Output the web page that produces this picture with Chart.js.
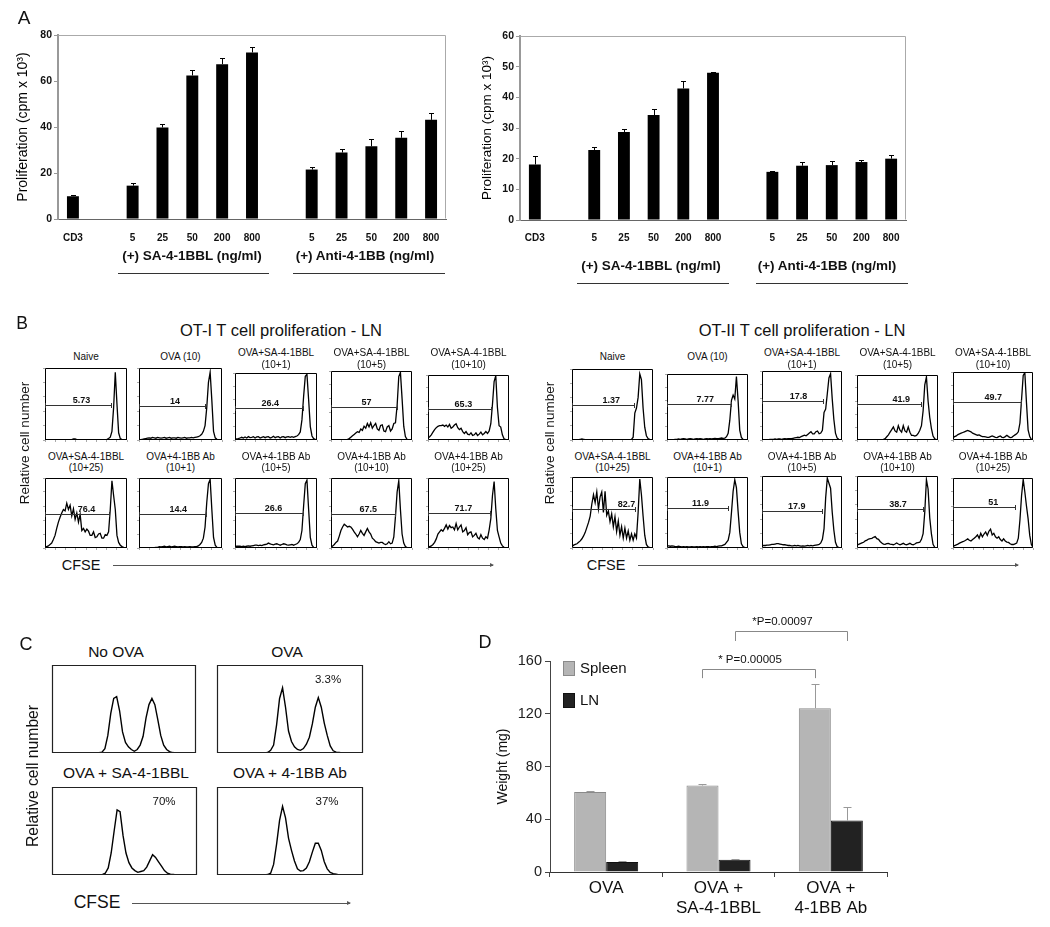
<!DOCTYPE html>
<html><head><meta charset="utf-8">
<script src="https://cdn.jsdelivr.net/npm/chart.js@4.4.1/dist/chart.umd.min.js"></script>
<style>
html,body{margin:0;padding:0;background:#fff;}
#fig{position:relative;width:1050px;height:927px;overflow:hidden;font-family:'Liberation Sans',Arial,Helvetica,sans-serif;color:#111;background:#fff;}
.t{position:absolute;white-space:nowrap;transform:translate(-50%,-50%);line-height:1;}
.rot{transform:translate(-50%,-50%) rotate(-90deg);}
canvas{position:absolute;}
</style></head><body><div id="fig"></div>
<script>
// ---------------- DATA ----------------
// Panel A
const aLabels = ['CD3','','5','25','50','200','800','','5','25','50','200','800'];
const ot1Prolif    = [9.9,null,14.5,39.8,62.4,67.3,72.4,null,21.5,28.9,31.6,35.3,43.1];
const ot1ProlifErr = [0.5,null,1.3,1.3,2.6,2.5,2.5,null,0.9,1.7,3.1,2.9,2.8];
const ot2Prolif    = [18.1,null,22.8,28.7,34.2,42.9,48.0,null,15.7,17.7,17.9,18.9,20.0];
const ot2ProlifErr = [2.7,null,0.9,0.9,2.1,2.5,0.2,null,0.2,1.1,1.2,0.7,1.3];
const aGroups = ['(+) SA-4-1BBL (ng/ml)','(+) Anti-4-1BB (ng/ml)'];

// Panel B (CFSE histograms, 50 bins, % of box height)
const ot1Titles = [['Naive'],['OVA (10)'],['OVA+SA-4-1BBL','(10+1)'],['OVA+SA-4-1BBL','(10+5)'],['OVA+SA-4-1BBL','(10+10)'],
  ['OVA+SA-4-1BBL','(10+25)'],['OVA+4-1BB Ab','(10+1)'],['OVA+4-1BB Ab','(10+5)'],['OVA+4-1BB Ab','(10+10)'],['OVA+4-1BB Ab','(10+25)']];
const ot2Titles = ot1Titles;
const ot1H1 = [0.5,0.5,0.5,0.5,0.5,0.5,0.5,0.5,0.5,0.5,0.5,0.5,0.5,0.5,0.5,0.5,0.5,1.5,1.5,0.5,0.5,0.5,0.5,0.5,0.5,0.5,0.5,0.5,0.5,0.5,0.5,0.5,0.5,0.5,0.5,0.5,0.5,1,2,4,12,45,94,50,10,2,0.5,0.5,0.5,0.5];
const ot1H2 = [0.5,0.5,1,1.5,2,2.5,3,2.5,3.5,3,2.5,3.5,3,2.5,3,3.5,2.5,3,3.5,2.5,3,3,2.5,3.5,3,2.5,3,3.5,2.5,3,3,3.5,3,3.5,4,4.5,6,8,12,20,45,80,94,55,12,3,1,0.5,0.5,0.5];
const ot1H3 = [1,1.5,2,3,4,3,4.5,3,5,3.5,4,5,3,4.5,5,3,4,5,3.5,4.5,5,3,4,5.5,3.5,4.5,5,3,4.5,5,3.5,4.5,5,4,5,4,5,6,8,12,30,65,95,98,60,20,6,2,1,0.5];
const ot1H4 = [0.5,0.5,0.5,0.5,0.5,0.5,0.5,0.5,0.5,0.5,1,2,4,6,8,10,12,11,16,14,20,17,24,19,25,17,21,24,16,14,21,22,13,12,19,21,13,16,24,25,50,92,98,60,20,5,1,0.5,0.5,0.5];
const ot1H5 = [3,5,8,12,16,19,21,22,22,23,21,23,20,24,18,20,23,25,19,16,18,13,10,13,9,8,11,7,8,11,7,9,12,8,10,13,10,14,25,55,90,99,50,22,20,8,2,0.5,0.5,0.5];
const ot1H6 = [1,2,3,5,7,12,18,28,37,44,50,55,53,64,55,61,46,56,41,50,37,48,25,28,23,27,24,18,18,23,15,16,20,21,14,14,19,18,23,55,96,75,55,18,8,4,2,1,0.5,0.5];
const ot1H7 = [0.5,0.5,0.5,0.5,0.5,0.5,0.5,0.5,0.5,0.5,1,1,2,1.5,2,2.5,1.5,2,2.5,1.5,2,2.5,2,1.5,2,2,1.5,2,1.5,1.5,2,1.5,1.5,2,2,3,5,8,14,30,65,92,98,55,15,4,1,0.5,0.5,0.5];
const ot1H8 = [2,2.5,2.5,2.5,2,2.5,2,2.5,3,2.5,3,3.5,4,4,3.5,4,3.5,4.5,5,5.5,7,6,5,4.5,5.5,6,5,4,5,6,5.5,4.5,4,4.5,5,4,5,6,8,12,25,60,92,97,55,15,4,1,0.5,0.5];
const ot1H9 = [1,3,5,8,10,17,25,30,34,32,30,31,30,27,23,20,16,20,25,21,18,23,28,23,20,14,12,9,8,7,8,8,6,5,6,9,6,7,16,45,80,96,55,20,7,2,0.5,0.5,0.5,0.5];
const ot1H10 = [1,2,3,5,8,13,20,23,26,24,28,33,27,32,29,30,26,35,26,30,33,23,25,29,19,22,23,16,18,21,15,13,19,14,12,16,14,26,42,75,95,56,25,16,7,3,1,0.5,0.5,0.5];
const ot1GateEnd   = [39.3,38.7,40.4,40,38.4,38.3,39.5,40.4,38.5,37.8];
const ot1GateLevel = [49,47.5,48,48,47,48,49,50,49,50];
const ot1GatePct   = ['5.73','14','26.4','57','65.3','76.4','14.4','26.6','67.5','71.7'];
const ot1LabelPos  = [21.8,21.2,21,21.5,21.4,24.8,23.2,23,22.5,21.4];

const ot2H1 = [0.5,0.5,0.5,0.5,0.5,1,1.5,1,0.5,0.5,0.5,0.5,0.5,0.5,0.5,0.5,0.5,0.5,0.5,0.5,0.5,0.5,0.5,0.5,0.5,0.5,0.5,0.5,0.5,0.5,0.5,0.5,0.5,0.5,0.5,0.5,1,4,38,45,60,93,85,45,18,6,2,1,0.5,0.5];
const ot2H2 = [0.5,0.5,0.5,0.5,0.5,1,1,1.5,1,1.5,2,1.5,1,1.5,2,1.5,1,1.5,2,1.5,2,1.5,1,1.5,2,1.5,2,1.5,2,2.5,2,2,2.5,3,2.5,3,5,10,30,60,68,62,96,60,15,4,1,0.5,0.5,0.5];
const ot2H3 = [0.5,0.5,0.5,0.5,0.5,1,1,1,1.5,1,1.5,1.5,1,1.5,2,1.5,2,2,2,2.5,3,3.5,4,3.5,5,6,7,6,8,10,12,9,9,12,13,9,10,14,40,45,67,90,96,60,30,10,3,1,0.5,0.5];
const ot2H4 = [0.5,0.5,0.5,0.5,0.5,0.5,0.5,0.5,0.5,0.5,0.5,0.5,0.5,0.5,0.5,0.5,1,2,5,8,12,16,20,14,12,22,15,12,22,14,12,20,12,7,7,6,7,10,15,22,45,85,97,60,35,18,6,2,0.5,0.5];
const ot2H5 = [3,5,6,8,9,10,11,12,13,14,13,12,10,9,8,7,7.5,6,5,5,4.5,4,4,5,6,5,4,3.5,5,6,4,3.5,5,7,5,3.5,4,6,7.5,9,12,25,60,95,99,55,15,5,1,0.5];
const ot2H6 = [2,4,5,6,8,10,13,17,22,29,36,45,62,75,64,79,55,72,79,50,80,46,52,37,48,30,44,23,38,18,30,14,28,14,24,11,20,11,20,14,50,97,75,45,18,5,1.5,0.5,0.5,0.5];
const ot2H7 = [3,3,2.5,3,2.5,2,2,2.5,2,1.5,2,1.5,2,1.5,1.5,2,1.5,1.5,2,1.5,2,1.5,2,1.5,2,2,1.5,2,2,2.5,2,2.5,3,3,4,5,8,11,22,50,80,96,85,52,22,6,2,0.5,0.5,0.5];
const ot2H8 = [3,3.5,3.5,4,4,4.5,5,5,5.5,6,6,5.5,5,4.5,4.5,4,3.5,3.5,3,3,3.5,3,3.5,3,2.5,3,2.5,3,3.5,3,3.5,3,3.5,4,4.5,5,7,12,27,70,97,90,83,50,25,8,2,0.5,0.5,0.5];
const ot2H9 = [4,5,6,7,8,10,11,12.5,13,13.5,15,16,13,12,9,7,5.5,5,6,6.5,5.5,5,4.5,5.5,7,5.5,4.5,5.5,6.5,5,4.5,5.5,6.5,5,4.5,5.5,7,7.5,8,12,20,50,95,82,42,20,5,1,0.5,0.5];
const ot2H10 = [2,3.5,4.5,5.5,7,8,9,10,11.5,13,11,10,12,14,16,18.6,14,21,16,20,23,18,24,27,18.6,21,16,14,16,12,10,13,10,8.5,8,6,5,5,6,7,14,40,75,98,80,60,42,18,5,1];
const ot2GateEnd   = [37.3,38.7,37.5,38.5,41.9,37.9,36.7,36.9,39.9,37.9];
const ot2GateLevel = [49,55,56,56,56,55,56,52,54,58];
const ot2GatePct   = ['1.37','7.77','17.8','41.9','49.7','82.7','11.9','17.9','38.7','51'];
const ot2LabelPos  = [23.8,23.2,22.3,26.8,24.7,32.9,20.2,21.3,24.8,24.7];

// Panel C
const cTitles = ['No OVA','OVA','OVA + SA-4-1BBL','OVA + 4-1BB Ab'];
const cPct = ['','3.3%','70%','37%'];
const cNoOva = [0,0,0,0,0,0,0,0,0,0,0,0,0,0,0,0,0.3,1,5,20,45,62,64,48,24,12,7,4,2,4,9,19,40,55,62,55,38,20,9,4,1.5,0.5,0,0,0,0,0,0,0,0];
const cOva   = [0,0,0,0,0,0,0,0,0,0,0,0,0,0,0,0,0,0.5,3,9,32,62,74,52,25,13,7,4,3,5,10,18,33,52,63,52,34,20,8,2.5,1,0.5,0,0,0,0,0,0,0,0];
const cOvaSA = [0,0,0,0,0,0,0,0,0,0,0,0,0,0,0,0,0,0.3,2,8,25,50,74,72,45,25,14,8,5,3,4,5,9,16,23,20,15,10,5,2,1,0.5,0,0,0,0,0,0,0,0];
const cOvaAb = [0,0,0,0,0,0,0,0,0,0,0,0,0,0,0,0,0,0.5,2,12,35,62,78,65,42,28,16,7,4.6,5,8,15,26,36,36,28,15,7,3,1.5,0.8,0,0,0,0,0,0,0,0,0];

// Panel D
const dGroups = ['OVA',['OVA +','SA-4-1BBL'],['OVA +','4-1BB Ab']];
const spleenWeight = [60.6,65.6,124.2];
const spleenErr    = [0.7,0.8,18.1];
const lnWeight     = [7.6,9.3,39.1];
const lnErr        = [0.7,0.8,10.1];
const pTexts  = ['* P=0.00005','*P=0.00097'];
const pLevels = [153.8,182.6];
const pDrops  = [6.8,7.4];

// ---------------- LAYOUT ----------------
const ot1Boxes = [[45,368,127,440],[139,368,222,440],[235,373,317,440],[331,371,412,440],[428,375,509,440],
  [45,478,127,548],[139,478,222,548],[235,478,317,548],[331,478,412,548],[428,478,509,548]];
const ot2Boxes = [[572,369,653,440],[667,374,748,440],[762,371,842,440],[857,375,938,440],[953,372,1033,440],
  [572,477,653,548],[667,477,748,548],[762,476,842,548],[857,476,938,548],[953,478,1033,548]];
const cBoxes = [[52,665,196,753],[217,665,363,753],[52,787,197,875],[217,787,363,875]];

const FONT = "'Liberation Sans', Arial, Helvetica, sans-serif";
Chart.defaults.font.family = FONT;
Chart.defaults.color = '#111';
const fig = document.getElementById('fig');

function place(l, t, w, h) {
  const c = document.createElement('canvas');
  c.width = w; c.height = h;
  c.style.left = l + 'px'; c.style.top = t + 'px';
  c.style.width = w + 'px'; c.style.height = h + 'px';
  fig.appendChild(c);
  return c;
}
function txt(s, x, y, size, o = {}) {
  const d = document.createElement('div');
  d.className = 't' + (o.rot ? ' rot' : '');
  d.textContent = s;
  d.style.left = x + 'px'; d.style.top = y + 'px';
  d.style.fontSize = size + 'px';
  if (o.bold) d.style.fontWeight = 'bold';
  if (o.color) d.style.color = o.color;
  fig.appendChild(d);
}
function hline(x1, x2, y, color) {
  const d = document.createElement('div');
  d.style.cssText = `position:absolute;left:${x1}px;top:${y}px;width:${x2 - x1}px;height:1px;background:${color || '#333'}`;
  fig.appendChild(d);
}
function arrow(x1, x2, y) {
  hline(x1, x2, y, '#555');
  const h = document.createElement('div');
  h.style.cssText = `position:absolute;left:${x2 - 3}px;top:${y - 2}px;width:0;height:0;border-left:4px solid #555;border-top:2.5px solid transparent;border-bottom:2.5px solid transparent`;
  fig.appendChild(h);
}

// ---------------- PLUGINS ----------------
function framePlugin(color, width, sides) {
  return { id: 'frame', afterDatasetsDraw(chart) {
    const { ctx, chartArea: a } = chart;
    const o = width % 2 ? 0.5 : 0;
    const L = Math.round(a.left) + o, T = Math.round(a.top) + o, R = Math.round(a.right) - o, B = Math.round(a.bottom) - o;
    ctx.save(); ctx.strokeStyle = color; ctx.lineWidth = width;
    ctx.beginPath();
    if (sides === 'tr') { ctx.moveTo(L, T); ctx.lineTo(R, T); ctx.lineTo(R, B); }
    else { ctx.rect(L, T, R - L, B - T); }
    ctx.stroke(); ctx.restore();
  }};
}
function errorPlugin(color, cap, width) {
  return { id: 'errorBars', afterDatasetsDraw(chart) {
    const { ctx } = chart; const y = chart.scales.y;
    chart.data.datasets.forEach((ds, di) => {
      if (!ds.errors) return;
      const meta = chart.getDatasetMeta(di);
      ctx.save(); ctx.strokeStyle = color; ctx.lineWidth = width;
      meta.data.forEach((bar, i) => {
        const v = ds.data[i], e = ds.errors[i];
        if (v == null || e == null) return;
        const x = Math.round(bar.x) + 0.5;
        const yt = Math.round(y.getPixelForValue(v + e)) + 0.5;
        ctx.beginPath(); ctx.moveTo(x, bar.y); ctx.lineTo(x, yt);
        ctx.moveTo(x - cap, yt); ctx.lineTo(x + cap, yt); ctx.stroke();
      });
      ctx.restore();
    });
  }};
}
function gatePlugin(end, level, text, pos) {
  return { id: 'gate', afterDatasetsDraw(chart) {
    const { ctx, scales: { x, y } } = chart;
    const x0 = Math.round(x.getPixelForValue(0)) + 0.5, x1 = Math.round(x.getPixelForValue(end)) + 0.5;
    const yy = Math.round(y.getPixelForValue(level)) + 0.5;
    ctx.save(); ctx.strokeStyle = '#333'; ctx.lineWidth = 1;
    ctx.beginPath(); ctx.moveTo(x0, yy); ctx.lineTo(x1, yy);
    ctx.moveTo(x1, yy - 2.5); ctx.lineTo(x1, yy + 2.5);
    ctx.moveTo(x0, yy - 2.5); ctx.lineTo(x0, yy + 2.5);
    ctx.stroke();
    ctx.fillStyle = '#111'; ctx.font = 'bold 9px ' + FONT; ctx.textAlign = 'center'; ctx.textBaseline = 'alphabetic';
    ctx.fillText(text, x.getPixelForValue(pos), yy - 3);
    ctx.restore();
  }};
}
const bracketPlugin = { id: 'brackets', afterDatasetsDraw(chart) {
  const { ctx } = chart; const y = chart.scales.y;
  pTexts.forEach((t, k) => {
    const meta = chart.getDatasetMeta(k);
    const xa = Math.round(meta.data[1].x) + 0.5, xb = Math.round(meta.data[2].x) + 0.5;
    const yt = Math.round(y.getPixelForValue(pLevels[k])) + 0.5;
    const yd = y.getPixelForValue(pLevels[k] - pDrops[k]);
    ctx.save(); ctx.strokeStyle = '#888'; ctx.lineWidth = 1;
    ctx.beginPath(); ctx.moveTo(xa, yd); ctx.lineTo(xa, yt); ctx.lineTo(xb, yt); ctx.lineTo(xb, yd); ctx.stroke();
    ctx.fillStyle = '#111'; ctx.font = '11.5px ' + FONT; ctx.textAlign = 'center'; ctx.textBaseline = 'middle';
    ctx.fillText(t, (xa + xb) / 2 - 9, yt - 9.5);
    ctx.restore();
  });
}};
const legendD = { id: 'legendD', afterDraw(chart) {
  const { ctx, chartArea: a } = chart;
  chart.data.datasets.forEach((ds, i) => {
    const bx = Math.round(a.left) + 13, by = Math.round(a.top) + i * 32;
    ctx.save();
    ctx.fillStyle = ds.backgroundColor; ctx.fillRect(bx, by, 12, 15);
    ctx.strokeStyle = ds.borderColor; ctx.lineWidth = 1; ctx.strokeRect(bx + 0.5, by + 0.5, 11, 14);
    ctx.fillStyle = '#111'; ctx.font = '15px ' + FONT; ctx.textAlign = 'left'; ctx.textBaseline = 'middle';
    ctx.fillText(ds.label, bx + 17, by + 8);
    ctx.restore();
  });
}};

const base = { responsive: false, animation: false, events: [] };
const noPlug = { legend: { display: false }, tooltip: { enabled: false } };

// ---------------- PANEL A ----------------
function barA(canvas, values, errs, yMax, step, title, titleSize, titlePad, pad, yW, xH, xPad) {
  new Chart(canvas, {
    type: 'bar',
    data: { labels: aLabels, datasets: [{ data: values, errors: errs, backgroundColor: '#000', barPercentage: 0.4, categoryPercentage: 1 }] },
    options: Object.assign({}, base, {
      layout: { autoPadding: false, padding: pad },
      plugins: noPlug,
      scales: {
        x: { grid: { display: false, drawTicks: false }, border: { color: '#666', width: 1 },
             ticks: { font: { size: 10, weight: 'bold' }, color: '#111', padding: xPad, autoSkip: false, maxRotation: 0 },
             afterFit: s => { s.height = xH; } },
        y: { min: 0, max: yMax, ticks: { stepSize: step, font: { size: 10.5, weight: 'bold' }, color: '#111', padding: 2 },
             grid: { drawOnChartArea: false, tickLength: 4, color: '#999' }, border: { color: '#999', width: 2 },
             title: { display: true, text: title, font: { size: titleSize }, color: '#000', padding: { top: titlePad, bottom: 0 } },
             afterFit: s => { s.width = yW; } }
      }
    }),
    plugins: [errorPlugin('#000', 2.5, 1), framePlugin('#aaa', 1, 'tr')]
  });
}
barA(place(0, 0, 455, 290), ot1Prolif, ot1ProlifErr, 80, 20, 'Proliferation (cpm x 10³)', 14, 14.6,
     { left: 0, top: 35, right: 9, bottom: 0 }, 58, 71, 13);
barA(place(460, 0, 455, 290), ot2Prolif, ot2ProlifErr, 60, 10, 'Proliferation (cpm x 10³)', 13.5, 18.9,
     { left: 0, top: 36, right: 9, bottom: 0 }, 60, 70, 12);

txt('A', 24, 17, 19);
txt(aGroups[0], 192, 256, 13.5, { bold: true });
txt(aGroups[1], 365, 256, 13.5, { bold: true });
hline(118, 269, 273); hline(293, 445, 273);
txt(aGroups[0], 651, 266, 13.5, { bold: true });
txt(aGroups[1], 827, 266, 13.5, { bold: true });
hline(577, 729, 283); hline(756, 908, 283);

// ---------------- HISTOGRAMS ----------------
function hist(box, values, gate, ticks, lw, frameColor, frameW) {
  const m = 4;
  const [L, T, R, B] = box;
  const W = R - L, H = B - T;
  const c = place(L - m, T - m, W + 2 * m, H + 2 * m);
  const n = values.length;
  const idx = values.map((v, i) => i);
  const g = ticks ? { drawOnChartArea: false, tickLength: 2, color: '#aaa' } : { display: false };
  const plugins = [framePlugin(frameColor, frameW, 'all')];
  if (gate) plugins.push(gatePlugin(gate[0], gate[1], gate[2], gate[3]));
  new Chart(c, {
    type: 'line',
    data: { labels: idx, datasets: [{ data: values, borderColor: '#000', borderWidth: lw, pointRadius: 0, fill: false, tension: 0 }] },
    options: Object.assign({}, base, {
      layout: { autoPadding: false, padding: { left: 0, top: m, right: m, bottom: 0 } },
      plugins: noPlug,
      scales: {
        x: { type: 'linear', min: 0, max: n - 1, ticks: { display: false, stepSize: (n - 1) / 8 }, grid: g, border: { display: false }, afterFit: s => { s.height = m; } },
        y: { min: 0, max: 100, ticks: { display: false, stepSize: 20 }, grid: g, border: { display: false }, afterFit: s => { s.width = m; } }
      }
    }),
    plugins
  });
}

// ---------------- PANEL B ----------------
const ot1Data = [ot1H1, ot1H2, ot1H3, ot1H4, ot1H5, ot1H6, ot1H7, ot1H8, ot1H9, ot1H10];
const ot2Data = [ot2H1, ot2H2, ot2H3, ot2H4, ot2H5, ot2H6, ot2H7, ot2H8, ot2H9, ot2H10];
function panelB(boxes, data, titles, gEnd, gLevel, gPct, gPos) {
  boxes.forEach((b, i) => {
    hist(b, data[i], [gEnd[i], gLevel[i], gPct[i], gPos[i]], true, 1.3, '#000', 1);
    const cx = (b[0] + b[2]) / 2;
    const t = titles[i];
    if (i < 5) {
      if (t.length === 1) txt(t[0], cx, 357, 10);
      else { txt(t[0], cx, 353, 10); txt(t[1], cx, 365, 10); }
    } else { txt(t[0], cx, 457, 10); txt(t[1], cx, 468, 10); }
  });
}
panelB(ot1Boxes, ot1Data, ot1Titles, ot1GateEnd, ot1GateLevel, ot1GatePct, ot1LabelPos);
panelB(ot2Boxes, ot2Data, ot2Titles, ot2GateEnd, ot2GateLevel, ot2GatePct, ot2LabelPos);
txt('B', 22, 324, 17.5);
txt('OT-I T cell proliferation - LN', 281, 330, 16.5);
txt('OT-II T cell proliferation - LN', 802, 330, 16.5);
txt('Relative cell number', 25, 443, 13.5, { rot: true });
txt('Relative cell number', 550, 443, 13.5, { rot: true });
txt('CFSE', 81, 565, 14.5); arrow(113, 493, 565);
txt('CFSE', 606, 565, 14.5); arrow(638, 1018, 565);

// ---------------- PANEL C ----------------
const cData = [cNoOva, cOva, cOvaSA, cOvaAb];
cBoxes.forEach((b, i) => hist(b, cData[i], null, false, 1.4, '#222', 1.2));
txt('C', 26, 644, 18);
txt(cTitles[0], 116, 652, 15.5); txt(cTitles[1], 287, 652, 15.5);
txt(cTitles[2], 126, 773, 15.5); txt(cTitles[3], 290, 773, 15.5);
txt(cPct[1], 328, 680, 11.5); txt(cPct[2], 164, 802, 11.5); txt(cPct[3], 327, 802, 11.5);
txt('Relative cell number', 33, 776, 15.7, { rot: true });
txt('CFSE', 97, 903, 17.5); arrow(132, 350, 903);

// ---------------- PANEL D ----------------
new Chart(place(440, 590, 470, 337), {
  type: 'bar',
  data: { labels: dGroups, datasets: [
    { label: 'Spleen', data: spleenWeight, errors: spleenErr, backgroundColor: '#b5b5b5', borderColor: '#8a8a8a', borderWidth: 1, barPercentage: 1, categoryPercentage: 0.57 },
    { label: 'LN', data: lnWeight, errors: lnErr, backgroundColor: '#222', borderColor: '#111', borderWidth: 1, barPercentage: 1, categoryPercentage: 0.57 }
  ]},
  options: Object.assign({}, base, {
    layout: { autoPadding: false, padding: { left: 0, top: 71, right: 23, bottom: 0 } },
    plugins: noPlug,
    scales: {
      x: { grid: { offset: true, drawOnChartArea: false, tickLength: 5, color: '#444' }, border: { color: '#333' },
           ticks: { font: { size: 17, lineHeight: 1.2 }, color: '#111', padding: 1, autoSkip: false, maxRotation: 0 },
           afterFit: s => { s.height = 55; } },
      y: { min: 0, max: 160, ticks: { stepSize: 40, font: { size: 14.5 }, color: '#222', padding: 3 },
           grid: { drawOnChartArea: false, tickLength: 5, color: '#444' }, border: { color: '#444' },
           title: { display: true, text: 'Weight (mg)', font: { size: 14 }, color: '#111', padding: { top: 55, bottom: 0 } },
           afterFit: s => { s.width = 110; } }
    }
  }),
  plugins: [errorPlugin('#999', 4, 1), bracketPlugin, legendD]
});
txt('D', 485, 642, 18);
</script></body></html>
